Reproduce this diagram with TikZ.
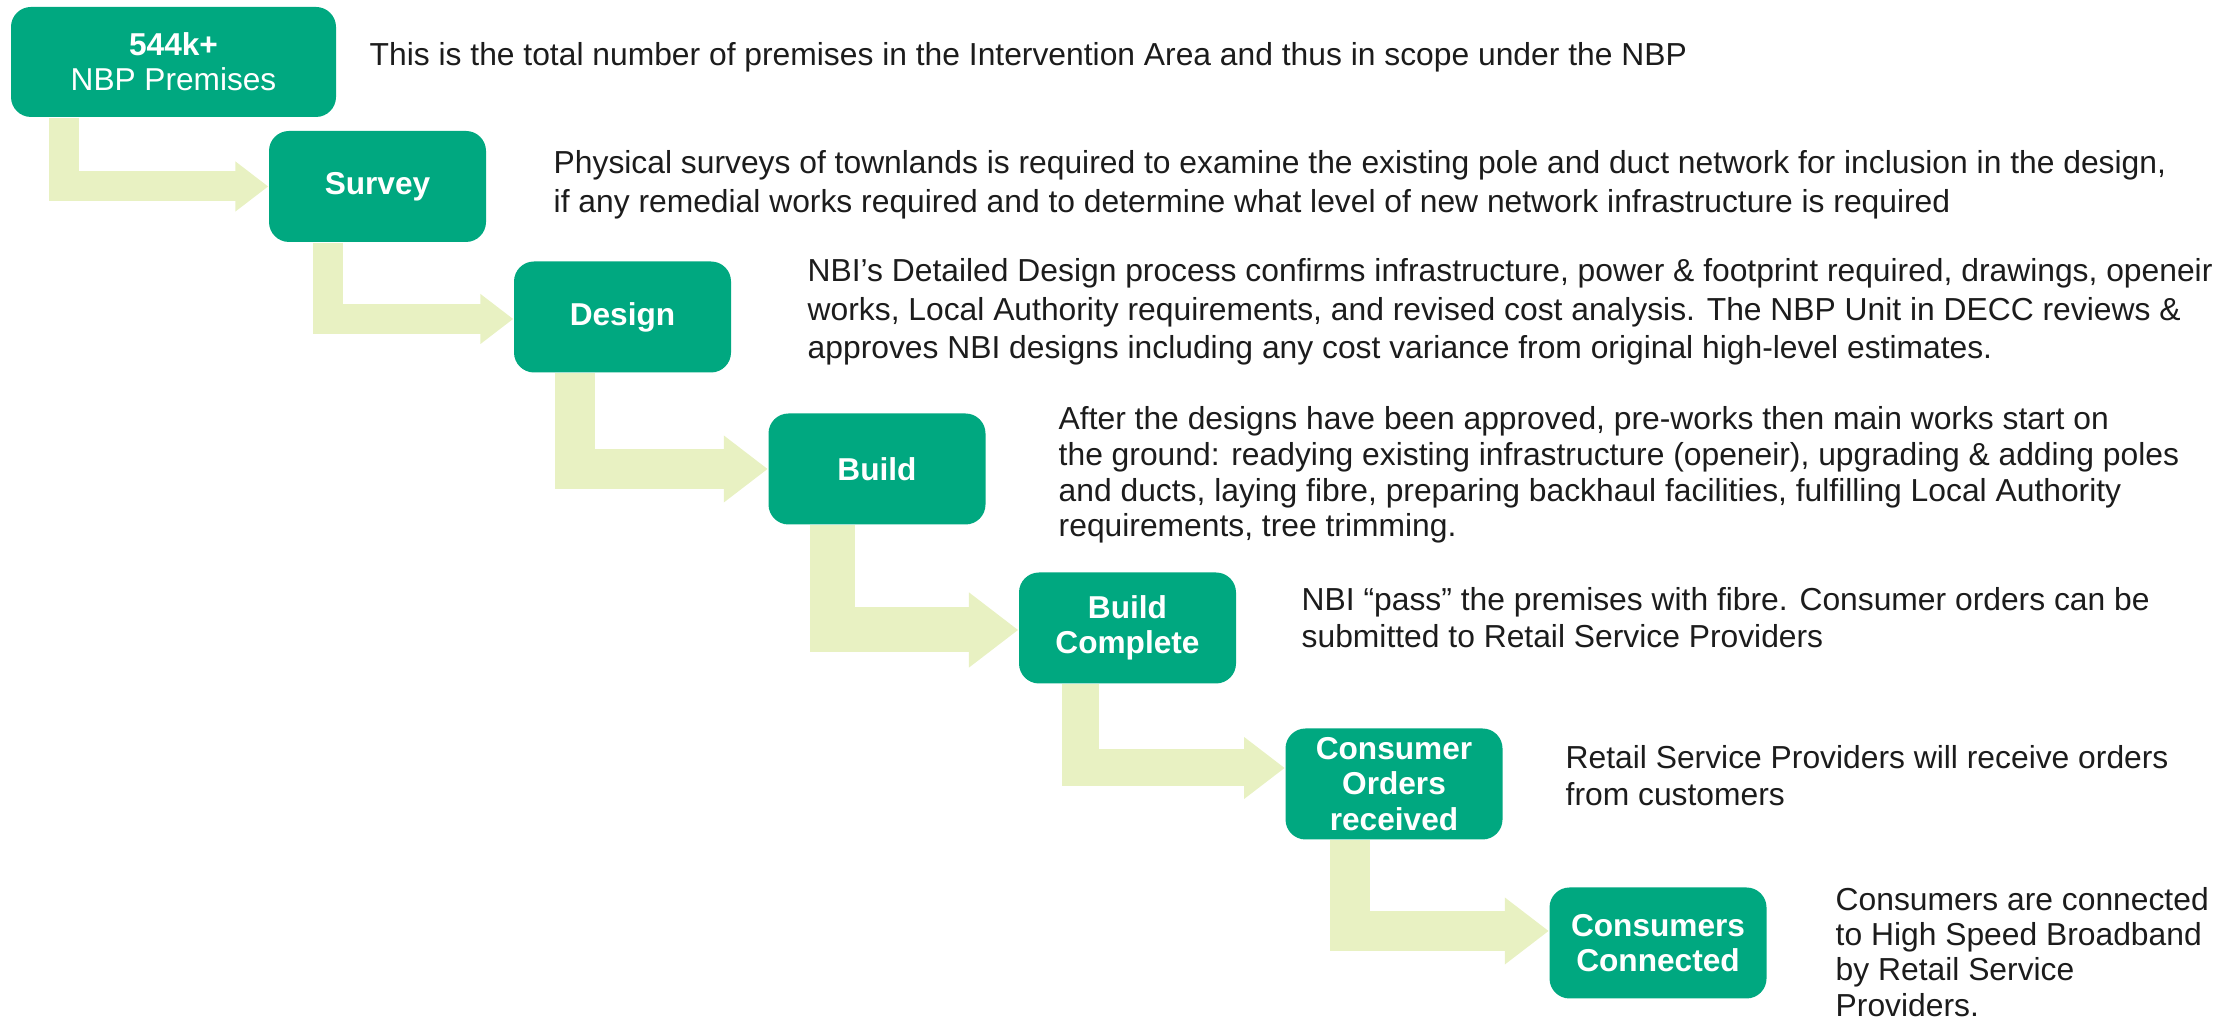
\documentclass[tikz,border=0pt]{standalone}
\usepackage{fontspec}
\setmainfont{Liberation Sans}
\usetikzlibrary{arrows.meta}
\definecolor{stagegreen}{RGB}{0,168,128}
\definecolor{flowgreen}{RGB}{232,241,194}
\definecolor{notegray}{RGB}{28,28,28}

\begin{document}
\begin{tikzpicture}[
	stage/.style={shape=rectangle, rounded corners=2mm, fill=stagegreen, text=white, minimum width=2.17cm, minimum height=1.11cm, align=center, inner sep=0pt, font=\fontsize{9}{10}\selectfont\bfseries},
	note/.style={anchor=west, align=left, inner sep=0pt, text=notegray, font=\fontsize{9.05}{#1}\selectfont},
	note/.default=10.2,
	flow/.style={draw=flowgreen, line width=#1, -{Triangle[length=0pt 1.1, width=0pt 1.6]}}
	]
	
	\useasboundingbox (0,0) rectangle (22.35,10.23);
	
	\node[stage, minimum width=3.25cm, minimum height=1.10cm] (premises) at (1.735, 9.61) {544k+\\ \mdseries NBP Premises};
	\node[stage] (survey)    at (3.775, 8.365) {Survey};
	\node[stage] (design)    at (6.225, 7.06)  {Design};
	\node[stage] (build)     at (8.77, 5.54)   {Build};
	\node[stage] (complete)  at (11.275, 3.95) {Build\\ Complete};
	\node[stage] (orders)    at (13.94, 2.39)  {Consumer\\ Orders\\ received};
	\node[stage] (connected) at (16.58, 0.80)  {Consumers\\ Connected};
	
	\draw[flow=3mm]   ([xshift=5.4mm]premises.south west) |- (survey.west);
	\draw[flow=3mm]   ([xshift=6.0mm]survey.south west)   |- ([yshift=-0.2mm]design.west);
	\draw[flow=4mm]   ([xshift=6.2mm]design.south west)   |- (build.west);
	\draw[flow=4.5mm] ([xshift=6.5mm]build.south west)    |- ([yshift=-0.2mm]complete.west);
	\draw[flow=3.7mm] ([xshift=6.2mm]complete.south west) |- ([yshift=1.6mm]orders.west);
	\draw[flow=4mm]   ([xshift=6.5mm]orders.south west)   |- ([yshift=1.2mm]connected.west);
	
	\node[note] (premisesnote)  at (3.69, 9.66)  {This is the total number of premises in the Intervention Area and thus in scope under the NBP};
	\node[note=11] (surveynote)    at (5.53, 8.38)  {Physical surveys of townlands is required to examine the existing pole and duct network for inclusion in the design,\\ if any remedial works required and to determine what level of new network infrastructure is required};
	\node[note=11] (designnote)    at (8.07, 7.11)  {NBI’s Detailed Design process confirms infrastructure, power \& footprint required, drawings, openeir\\ works, Local Authority requirements, and revised cost analysis. The NBP Unit in DECC reviews \&\\ approves NBI designs including any cost variance from original high-level estimates.};
	\node[note] (buildnote)     at (10.58, 5.48) {After the designs have been approved, pre-works then main works start on\\ the ground: readying existing infrastructure (openeir), upgrading \& adding poles\\ and ducts, laying fibre, preparing backhaul facilities, fulfilling Local Authority\\ requirements, tree trimming.};
	\node[note=10.6] (completenote)  at (13.01, 4.05) {NBI “pass” the premises with fibre. Consumer orders can be\\ submitted to Retail Service Providers};
	\node[note=10.6] (ordersnote)    at (15.65, 2.47) {Retail Service Providers will receive orders\\ from customers};
	\node[note=10] (connectednote) at (18.35, 0.71) {Consumers are connected\\ to High Speed Broadband\\ by Retail Service\\ Providers.};
	
\end{tikzpicture}
\end{document}
